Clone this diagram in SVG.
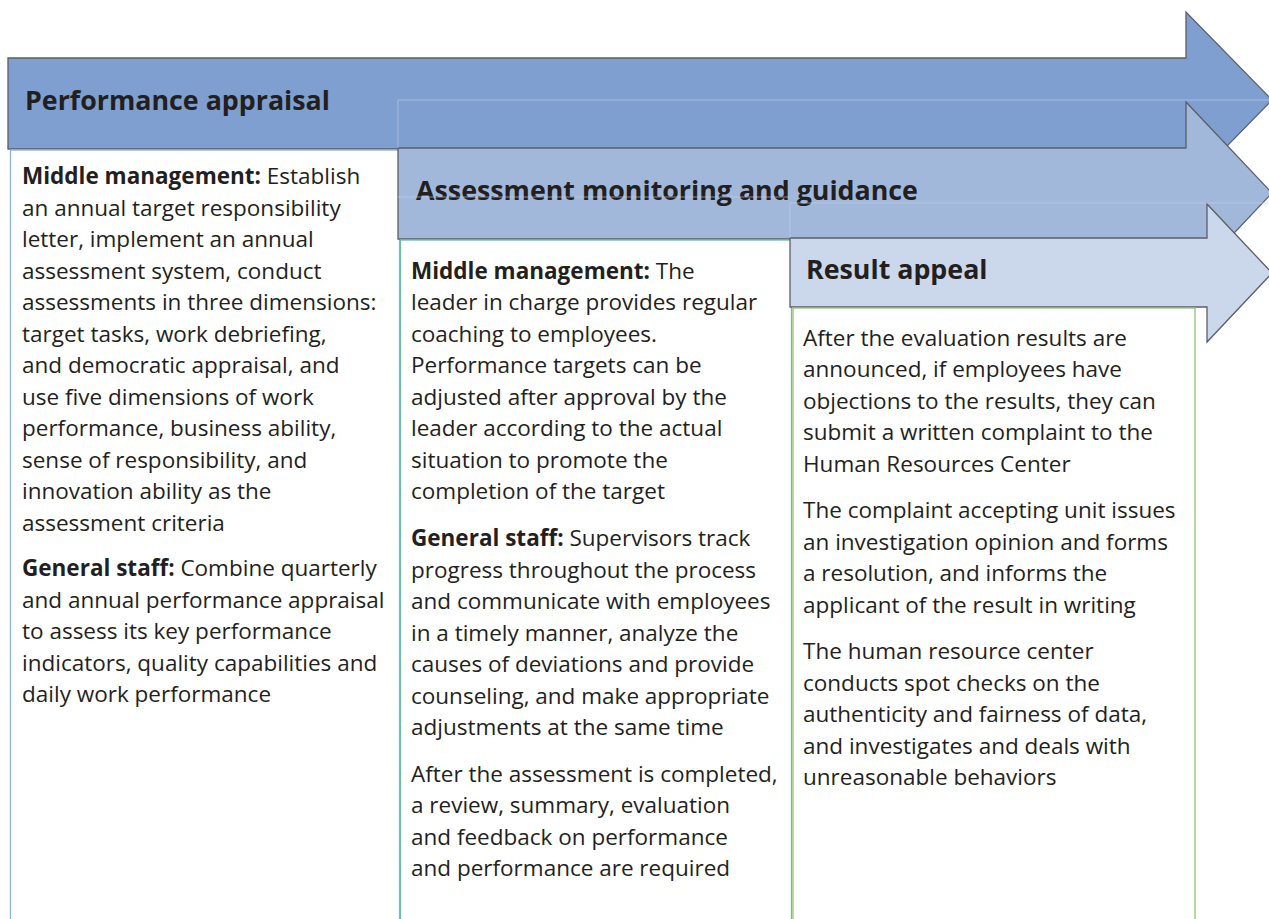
<svg xmlns="http://www.w3.org/2000/svg" width="1269" height="919" viewBox="0 0 1269 919">
<style>
.arrow{stroke:#5b5f69;stroke-width:1.3;stroke-linejoin:miter}
.faint{fill:none;stroke:#c3d1e8;stroke-width:1;opacity:0.6}
.box{fill:#ffffff;stroke-width:1.3}
.hdr{font-family:"Open Sans","Noto Sans",sans-serif;font-weight:bold;font-size:26.8px;fill:#231f20}
.txt{font-family:"Open Sans","Noto Sans",sans-serif;font-size:22.5px;fill:#231f20}
.b{font-weight:bold}
</style>
<rect width="1269" height="919" fill="#ffffff"/>
<g id="stage1">
<path class="arrow" fill="#7e9fcf" d="M8,58 H1186 V12 L1272,100 L1186,188 V149 H8 Z"/>
<text class="hdr" x="25" y="110">Performance appraisal</text>
<rect class="box" x="10.5" y="150" width="389" height="790" stroke="#8db3dd"/>
<text class="txt" x="22">
<tspan x="22" y="184"><tspan class="b">Middle management:</tspan> Establish</tspan>
<tspan x="22" y="215.5">an annual target responsibility</tspan>
<tspan x="22" y="247">letter, implement an annual</tspan>
<tspan x="22" y="278.5">assessment system, conduct</tspan>
<tspan x="22" y="310">assessments in three dimensions:</tspan>
<tspan x="22" y="341.5">target tasks, work debriefing,</tspan>
<tspan x="22" y="373">and democratic appraisal, and</tspan>
<tspan x="22" y="404.5">use five dimensions of work</tspan>
<tspan x="22" y="436">performance, business ability,</tspan>
<tspan x="22" y="467.5">sense of responsibility, and</tspan>
<tspan x="22" y="499">innovation ability as the</tspan>
<tspan x="22" y="530.5">assessment criteria</tspan>
<tspan x="22" y="576"><tspan class="b">General staff:</tspan> Combine quarterly</tspan>
<tspan x="22" y="607.5">and annual performance appraisal</tspan>
<tspan x="22" y="639">to assess its key performance</tspan>
<tspan x="22" y="670.5">indicators, quality capabilities and</tspan>
<tspan x="22" y="702">daily work performance</tspan>
</text>
</g>
<g id="stage2">
<path class="arrow" fill="#a2b8da" d="M398,148 H1186 V102 L1272,193 L1186,284 V239 H398 Z"/>
<path class="faint" d="M398,148 V100 H1269"/>
<text class="hdr" x="416" y="200">Assessment monitoring and guidance</text>
<rect class="box" x="400.5" y="240" width="391" height="700" stroke="#6cbfa6"/>
<text class="txt" x="411">
<tspan x="411" y="278.5"><tspan class="b">Middle management:</tspan> The</tspan>
<tspan x="411" y="310">leader in charge provides regular</tspan>
<tspan x="411" y="341.5">coaching to employees.</tspan>
<tspan x="411" y="373">Performance targets can be</tspan>
<tspan x="411" y="404.5">adjusted after approval by the</tspan>
<tspan x="411" y="436">leader according to the actual</tspan>
<tspan x="411" y="467.5">situation to promote the</tspan>
<tspan x="411" y="499">completion of the target</tspan>
<tspan x="411" y="546"><tspan class="b">General staff:</tspan> Supervisors track</tspan>
<tspan x="411" y="577.5">progress throughout the process</tspan>
<tspan x="411" y="609">and communicate with employees</tspan>
<tspan x="411" y="640.5">in a timely manner, analyze the</tspan>
<tspan x="411" y="672">causes of deviations and provide</tspan>
<tspan x="411" y="703.5">counseling, and make appropriate</tspan>
<tspan x="411" y="735">adjustments at the same time</tspan>
<tspan x="411" y="781.5">After the assessment is completed,</tspan>
<tspan x="411" y="813">a review, summary, evaluation</tspan>
<tspan x="411" y="844.5">and feedback on performance</tspan>
<tspan x="411" y="876">and performance are required</tspan>
</text>
</g>
<g id="stage3">
<path class="arrow" fill="#cbd7ea" d="M790,238 H1207 V204 L1272,273 L1207,342 V307 H790 Z"/>
<path class="faint" d="M398,197 H789 M790,238 V203 H1269"/>
<text class="hdr" x="806" y="279">Result appeal</text>
<rect class="box" x="793" y="308" width="402" height="632" stroke="#8ec66f"/>
<text class="txt" x="803">
<tspan x="803" y="345.5">After the evaluation results are</tspan>
<tspan x="803" y="377">announced, if employees have</tspan>
<tspan x="803" y="408.5">objections to the results, they can</tspan>
<tspan x="803" y="440">submit a written complaint to the</tspan>
<tspan x="803" y="471.5">Human Resources Center</tspan>
<tspan x="803" y="518">The complaint accepting unit issues</tspan>
<tspan x="803" y="549.5">an investigation opinion and forms</tspan>
<tspan x="803" y="581">a resolution, and informs the</tspan>
<tspan x="803" y="612.5">applicant of the result in writing</tspan>
<tspan x="803" y="659">The human resource center</tspan>
<tspan x="803" y="690.5">conducts spot checks on the</tspan>
<tspan x="803" y="722">authenticity and fairness of data,</tspan>
<tspan x="803" y="753.5">and investigates and deals with</tspan>
<tspan x="803" y="785">unreasonable behaviors</tspan>
</text>
</g>
</svg>
